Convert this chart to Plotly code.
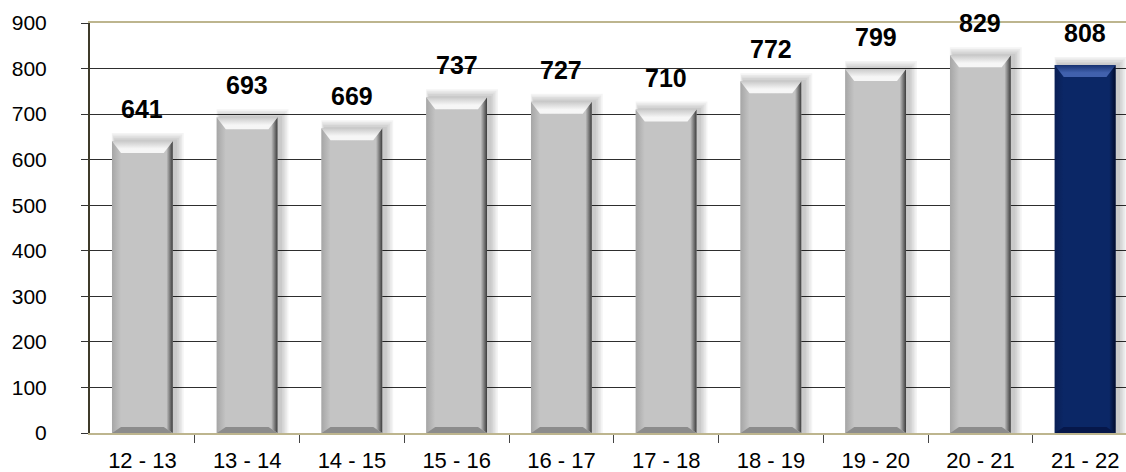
import plotly.graph_objects as go

# School years and enrolment counts
years = ["12 - 13", "13 - 14", "14 - 15", "15 - 16", "16 - 17",
         "17 - 18", "18 - 19", "19 - 20", "20 - 21", "21 - 22"]
values = [641, 693, 669, 737, 727, 710, 772, 799, 829, 808]
y_ticks = [0, 100, 200, 300, 400, 500, 600, 700, 800, 900]

# Last year highlighted in navy, the rest in silver
GRAY = dict(face="#c4c4c4", top_hi="#f6f6f6", top_lo="#cacaca",
            left_edge="#a6a6a6", right_edge="#3c3c3c", bottom="#8c8c8c")
NAVY = dict(face="#0b2766", top_hi="#4161ad", top_lo="#15306f",
            left_edge="#0a1f55", right_edge="#020c2c", bottom="#06174a")
styles = [GRAY] * (len(values) - 1) + [NAVY]

x_pos = list(range(len(years)))
X_RANGE = [-0.5, 9.39]
Y_RANGE = [0, 900]
W, H = 1126, 472
M = dict(l=90, r=0, t=23, b=39)

px_x = (W - M["l"] - M["r"]) / (X_RANGE[1] - X_RANGE[0])   # pixels per category
px_y = (H - M["t"] - M["b"]) / (Y_RANGE[1] - Y_RANGE[0])   # pixels per unit

BAR_W = 0.58
half = BAR_W / 2
bev_x = 9 / px_x
bev_top = 12 / px_y
bev_bot = 6 / px_y

fig = go.Figure()

# soft drop shadow: a few wider translucent bars behind each face
for k in range(1, 6):
    gx = (k * 1.6) / px_x
    gy = (k * 1.6) / px_y
    sx = 3 / px_x
    fig.add_trace(go.Bar(x=x_pos, y=[v + gy for v in values],
                         width=BAR_W + gx * 1.4, offset=-half - gx * 0.4 + sx,
                         marker=dict(color="rgba(0,0,0,0.045)", line=dict(width=0)),
                         hoverinfo="skip", showlegend=False))

# bar faces
fig.add_trace(go.Bar(x=x_pos, y=values, width=BAR_W, offset=-half,
                     marker=dict(color=[s["face"] for s in styles], line=dict(width=0)),
                     hoverinfo="skip", showlegend=False))


def poly(xs, ys, **kw):
    fig.add_trace(go.Scatter(x=xs + [xs[0]], y=ys + [ys[0]], mode="lines",
                             line=dict(width=0), fill="toself",
                             hoverinfo="skip", showlegend=False, **kw))


# bevelled edges on each bar
for c, v, s in zip(x_pos, values, styles):
    L, R = c - half, c + half
    # left bevel
    poly([L, L + bev_x, L + bev_x, L], [0, bev_bot, v - bev_top, v],
         fillgradient=dict(type="horizontal",
                           colorscale=[[0, s["left_edge"]], [1, s["face"]]]))
    # right bevel
    poly([R, R - bev_x, R - bev_x, R], [0, bev_bot, v - bev_top, v],
         fillgradient=dict(type="horizontal",
                           colorscale=[[0, s["face"]], [0.3, s["face"]], [1, s["right_edge"]]]))
    # top bevel
    poly([L, R, R - bev_x, L + bev_x], [v, v, v - bev_top, v - bev_top],
         fillgradient=dict(type="vertical",
                           colorscale=[[0, s["top_hi"]], [0.35, s["top_hi"]], [1, s["top_lo"]]]))
    # bottom bevel
    poly([L, R, R - bev_x, L + bev_x], [0, 0, bev_bot, bev_bot],
         fillcolor=s["bottom"])

# value labels above the bars
for c, v in zip(x_pos, values):
    fig.add_annotation(x=c, y=v, text=f"<b>{v}</b>", showarrow=False,
                       yanchor="bottom", yshift=16,
                       font=dict(family="Liberation Sans, Arial", size=25, color="#000000"))

fig.update_layout(
    width=W, height=H, margin=M,
    paper_bgcolor="#ffffff", plot_bgcolor="#ffffff",
    barmode="overlay",
    font=dict(family="Liberation Sans, Arial", size=21, color="#000000"),
    xaxis=dict(range=X_RANGE, tickmode="array", tickvals=x_pos, ticktext=years,
               tickfont=dict(size=22),
               ticks="outside", ticklen=7, tickcolor="rgba(0,0,0,0)",
               showgrid=False, zeroline=False,
               showline=True, linecolor="#bdb58e", linewidth=2, mirror=True,
               minor=dict(tickvals=[i + 0.5 for i in x_pos[:-1]], ticks="outside",
                          ticklen=8, tickcolor="#444444", showgrid=False),
               automargin=False, fixedrange=True),
    yaxis=dict(range=Y_RANGE, tickmode="array", tickvals=y_ticks,
               ticks="outside", ticklen=7, tickcolor="#333333",
               ticklabelstandoff=30,
               showgrid=True, gridcolor="#2e2e2e", gridwidth=1,
               zeroline=True, zerolinecolor="#222222", zerolinewidth=1,
               showline=True, linecolor="#3f3b2a", linewidth=2,
               automargin=False, fixedrange=True),
)

fig.write_html("out.html")
